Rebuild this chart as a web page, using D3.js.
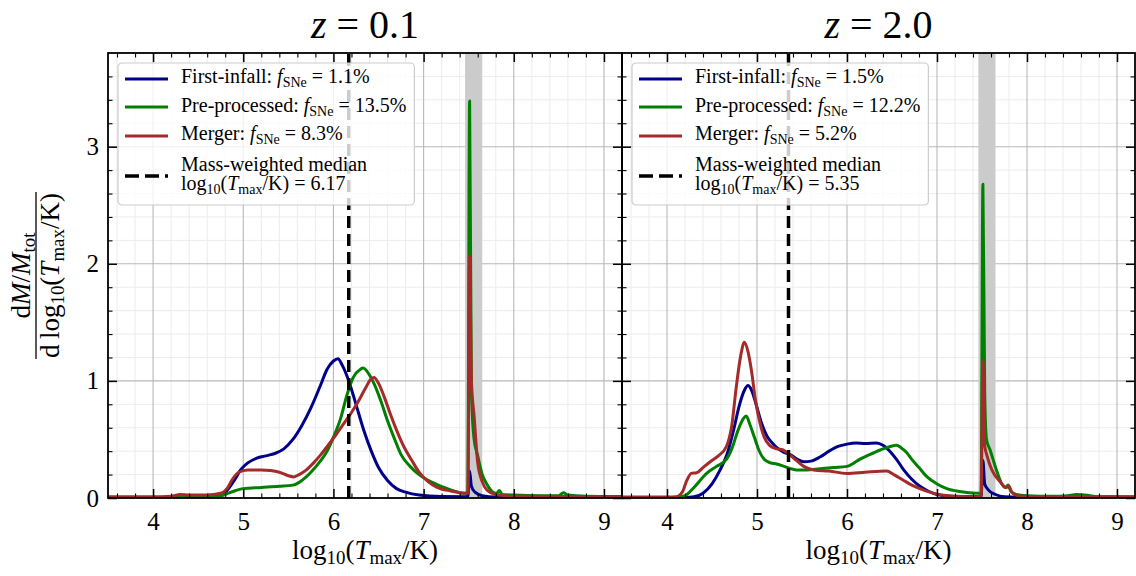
<!DOCTYPE html>
<html>
<head>
<meta charset="utf-8">
<script src="https://cdn.jsdelivr.net/npm/d3@7"></script>
<style>
  body { margin: 0; background: #fff; }
  text { font-family: "Liberation Serif", "Times New Roman", serif; fill: #000; }
</style>
</head>
<body>
<div class="visualisation"></div>
<script>
// ---- data ----
const xDomain = [3.5, 9.2];
const yDomain = [0, 3.8];
const majorX = [4, 5, 6, 7, 8, 9];
const majorY = [0, 1, 2, 3];
const redshifts = ["0.1", "2.0"];
const seriesNames = ["First-infall", "Pre-processed", "Merger"];
const seriesColors = ["#00008b", "#008000", "#a52a2a"];
const fSNe = [["1.1", "13.5", "8.3"], ["1.5", "12.2", "5.2"]];
const medians = [6.17, 5.35];
const hotBand = [7.46, 7.65];

// z = 0.1
const firstInfallZ01 = [[3.5,0.005],[4.0,0.005],[4.5,0.008],[4.7,0.02],[4.8,0.05],[4.9,0.15],[4.97,0.24],[5.05,0.30],[5.15,0.34],[5.25,0.36],[5.35,0.38],[5.45,0.42],[5.55,0.50],[5.65,0.62],[5.75,0.77],[5.85,0.95],[5.93,1.10],[6.0,1.17],[6.05,1.19],[6.1,1.13],[6.17,1.0],[6.25,0.80],[6.34,0.57],[6.42,0.40],[6.5,0.26],[6.6,0.15],[6.7,0.08],[6.8,0.05],[6.95,0.025],[7.2,0.012],[7.49,0.01],[7.51,0.23],[7.53,0.1],[7.57,0.05],[7.65,0.02],[7.8,0.008],[8.5,0.005],[9.2,0.003]];
const preProcessedZ01 = [[3.5,0.003],[4.5,0.005],[4.7,0.01],[4.8,0.03],[4.9,0.06],[5.0,0.08],[5.2,0.09],[5.4,0.10],[5.55,0.11],[5.65,0.15],[5.75,0.22],[5.85,0.31],[5.93,0.40],[6.0,0.52],[6.08,0.68],[6.15,0.88],[6.22,1.03],[6.3,1.10],[6.33,1.11],[6.4,1.05],[6.46,0.96],[6.53,0.82],[6.6,0.66],[6.68,0.50],[6.75,0.37],[6.85,0.27],[6.95,0.2],[7.05,0.15],[7.15,0.115],[7.3,0.07],[7.45,0.04],[7.49,0.04],[7.51,3.39],[7.53,0.9],[7.56,0.5],[7.6,0.36],[7.65,0.2],[7.7,0.12],[7.77,0.05],[7.81,0.04],[7.84,0.065],[7.87,0.03],[8.0,0.025],[8.3,0.02],[8.5,0.02],[8.55,0.045],[8.6,0.025],[8.8,0.015],[9.2,0.012]];
const mergerZ01 = [[3.5,0.01],[4.0,0.01],[4.2,0.015],[4.3,0.03],[4.4,0.025],[4.6,0.025],[4.75,0.04],[4.82,0.08],[4.88,0.16],[4.95,0.22],[5.05,0.24],[5.2,0.24],[5.3,0.235],[5.4,0.22],[5.5,0.19],[5.56,0.18],[5.62,0.2],[5.7,0.24],[5.78,0.3],[5.86,0.37],[5.94,0.45],[6.02,0.53],[6.1,0.62],[6.2,0.73],[6.28,0.83],[6.35,0.93],[6.42,1.02],[6.45,1.03],[6.5,0.98],[6.56,0.87],[6.63,0.72],[6.7,0.58],[6.78,0.44],[6.87,0.32],[6.95,0.22],[7.05,0.14],[7.15,0.09],[7.3,0.06],[7.49,0.04],[7.51,2.07],[7.53,1.0],[7.56,0.7],[7.6,0.3],[7.65,0.14],[7.7,0.07],[7.8,0.03],[8.0,0.015],[9.2,0.01]];

// z = 2.0
const firstInfallZ20 = [[3.5,0.003],[4.2,0.005],[4.3,0.01],[4.4,0.04],[4.5,0.12],[4.59,0.24],[4.67,0.38],[4.74,0.58],[4.8,0.78],[4.86,0.92],[4.9,0.96],[4.94,0.92],[4.99,0.80],[5.05,0.64],[5.11,0.53],[5.17,0.47],[5.22,0.43],[5.3,0.39],[5.37,0.37],[5.45,0.33],[5.52,0.31],[5.6,0.315],[5.7,0.35],[5.8,0.40],[5.9,0.44],[6.0,0.46],[6.1,0.47],[6.2,0.465],[6.33,0.47],[6.4,0.45],[6.45,0.42],[6.55,0.33],[6.63,0.24],[6.72,0.16],[6.81,0.10],[6.9,0.06],[7.0,0.03],[7.2,0.012],[7.49,0.01],[7.51,0.32],[7.53,0.12],[7.57,0.07],[7.65,0.03],[7.75,0.01],[8.0,0.005],[9.2,0.003]];
const preProcessedZ20 = [[3.5,0.003],[4.1,0.005],[4.2,0.02],[4.3,0.09],[4.44,0.21],[4.55,0.27],[4.66,0.33],[4.72,0.42],[4.79,0.58],[4.85,0.68],[4.88,0.70],[4.92,0.63],[4.97,0.52],[5.02,0.41],[5.08,0.33],[5.15,0.30],[5.22,0.29],[5.3,0.27],[5.44,0.24],[5.55,0.24],[5.7,0.25],[5.85,0.26],[6.0,0.27],[6.08,0.30],[6.14,0.33],[6.25,0.37],[6.37,0.41],[6.48,0.44],[6.55,0.45],[6.6,0.43],[6.66,0.39],[6.72,0.33],[6.8,0.26],[6.89,0.18],[7.0,0.12],[7.11,0.08],[7.25,0.055],[7.44,0.04],[7.49,0.04],[7.51,2.68],[7.53,0.9],[7.55,0.5],[7.59,0.41],[7.66,0.24],[7.72,0.12],[7.76,0.09],[7.79,0.11],[7.82,0.06],[7.88,0.03],[8.0,0.02],[8.3,0.015],[8.45,0.02],[8.55,0.03],[8.7,0.02],[8.8,0.01],[9.2,0.008]];
const mergerZ20 = [[3.5,0.008],[4.0,0.008],[4.1,0.01],[4.17,0.05],[4.22,0.15],[4.27,0.21],[4.33,0.215],[4.4,0.26],[4.48,0.31],[4.57,0.36],[4.66,0.44],[4.72,0.62],[4.77,0.95],[4.82,1.22],[4.86,1.33],[4.9,1.25],[4.94,1.08],[4.98,0.85],[5.03,0.65],[5.08,0.52],[5.14,0.45],[5.22,0.42],[5.29,0.41],[5.36,0.37],[5.44,0.32],[5.52,0.27],[5.63,0.24],[5.8,0.23],[6.0,0.21],[6.2,0.22],[6.44,0.23],[6.52,0.2],[6.63,0.15],[6.72,0.11],[6.81,0.08],[6.92,0.05],[7.05,0.025],[7.3,0.012],[7.49,0.01],[7.51,1.17],[7.53,0.45],[7.56,0.35],[7.61,0.24],[7.7,0.14],[7.77,0.09],[7.8,0.1],[7.83,0.05],[7.9,0.02],[8.1,0.012],[9.2,0.01]];

const panelSeries = [
    [firstInfallZ01, preProcessedZ01, mergerZ01],
    [firstInfallZ20, preProcessedZ20, mergerZ20]
];

// ---- layout ----
const width = 1136;
const height = 576;
const plotTop = 53, plotBottom = 498;
const panelEdges = [[108, 622], [622, 1135]];
const minorX = d3.range(18, 46).map(k => k / 5).filter(v => Math.abs(v - Math.round(v)) > 1e-6);
const minorY = d3.range(1, 19).map(k => k / 5).filter(v => Math.abs(v - Math.round(v)) > 1e-6);

const svg = d3.select(".visualisation")
    .append("svg")
    .attr("width", width)
    .attr("height", height);

const y = d3.scaleLinear(yDomain, [plotBottom, plotTop]);

// writes mathtext-like runs: [string, kind] where kind is "i" (italic) or "sub"
function rich(textSel, parts, fs) {
    let shift = 0;
    parts.forEach(([str, kind]) => {
        const t = textSel.append("tspan").text(str);
        let target = 0;
        if (kind === "i") t.style("font-style", "italic");
        if (kind === "sub") {
            t.attr("font-size", fs * 0.7);
            target = fs * 0.2;
        }
        if (target !== shift) t.attr("dy", target - shift);
        shift = target;
    });
    return textSel;
}

function styleAxis(g, major) {
    g.select(".domain").remove();
    g.selectAll(".tick line")
        .attr("stroke", "#000")
        .attr("stroke-width", major ? 1.5 : 1.1);
    g.selectAll(".tick text")
        .attr("font-size", 25)
        .style("font-family", "'Liberation Serif', serif")
        .attr("fill", "#000");
}

panelEdges.forEach((edge, i) => {
    const x = d3.scaleLinear(xDomain, edge);
    const g = svg.append("g");
    const clipId = "clip" + i;

    g.append("clipPath").attr("id", clipId)
        .append("rect")
        .attr("x", edge[0]).attr("y", plotTop)
        .attr("width", edge[1] - edge[0]).attr("height", plotBottom - plotTop);

    // grid: minor then major
    const grid = g.append("g");
    grid.selectAll("line.minx").data(minorX).enter().append("line")
        .attr("x1", d => x(d)).attr("x2", d => x(d))
        .attr("y1", plotTop).attr("y2", plotBottom)
        .attr("stroke", "#ececec").attr("stroke-width", 1);
    grid.selectAll("line.miny").data(minorY).enter().append("line")
        .attr("x1", edge[0]).attr("x2", edge[1])
        .attr("y1", d => y(d)).attr("y2", d => y(d))
        .attr("stroke", "#ececec").attr("stroke-width", 1);
    grid.selectAll("line.majx").data(majorX).enter().append("line")
        .attr("x1", d => x(d)).attr("x2", d => x(d))
        .attr("y1", plotTop).attr("y2", plotBottom)
        .attr("stroke", "#b8b8b8").attr("stroke-width", 1.1);
    grid.selectAll("line.majy").data(majorY).enter().append("line")
        .attr("x1", edge[0]).attr("x2", edge[1])
        .attr("y1", d => y(d)).attr("y2", d => y(d))
        .attr("stroke", "#b8b8b8").attr("stroke-width", 1.1);

    // shaded band around the virial temperature spike
    g.append("rect")
        .attr("x", x(hotBand[0]))
        .attr("width", x(hotBand[1]) - x(hotBand[0]))
        .attr("y", plotTop).attr("height", plotBottom - plotTop)
        .attr("fill", "#cbcbcb");

    const line = d3.line()
        .x(d => x(d[0]))
        .y(d => y(d[1]))
        .curve(d3.curveMonotoneX);

    g.append("g").attr("clip-path", `url(#${clipId})`)
        .selectAll("path")
        .data(panelSeries[i])
        .enter()
        .append("path")
        .attr("d", line)
        .attr("fill", "none")
        .attr("stroke", (d, k) => seriesColors[k])
        .attr("stroke-width", 3)
        .attr("stroke-linejoin", "round");

    // mass-weighted median
    g.append("line")
        .attr("x1", x(medians[i])).attr("x2", x(medians[i]))
        .attr("y1", y(0)).attr("y2", plotTop)
        .attr("stroke", "#000")
        .attr("stroke-width", 3.5)
        .attr("stroke-dasharray", "12,6");

    // ticks on all four sides, pointing inward
    const axes = [
        [d3.axisBottom(x), `translate(0,${plotBottom})`, true],
        [d3.axisTop(x), `translate(0,${plotTop})`, false],
    ];
    axes.forEach(([ax, tr, labels]) => {
        g.append("g").attr("transform", tr)
            .call(ax.tickValues(minorX).tickSize(-4.5).tickSizeOuter(0).tickFormat(""))
            .call(s => styleAxis(s, false));
        g.append("g").attr("transform", tr)
            .call(ax.tickValues(majorX).tickSize(-9).tickSizeOuter(0).tickPadding(14)
                .tickFormat(labels ? d3.format("d") : ""))
            .call(s => styleAxis(s, true));
    });
    const yAxes = [
        [d3.axisLeft(y), `translate(${edge[0]},0)`, i === 0],
        [d3.axisRight(y), `translate(${edge[1]},0)`, false],
    ];
    yAxes.forEach(([ax, tr, labels]) => {
        g.append("g").attr("transform", tr)
            .call(ax.tickValues(minorY).tickSize(-4.5).tickSizeOuter(0).tickFormat(""))
            .call(s => styleAxis(s, false));
        g.append("g").attr("transform", tr)
            .call(ax.tickValues(majorY).tickSize(-9).tickSizeOuter(0).tickPadding(9)
                .tickFormat(labels ? d3.format("d") : ""))
            .call(s => styleAxis(s, true));
    });

    // frame
    g.append("rect")
        .attr("x", edge[0]).attr("y", plotTop)
        .attr("width", edge[1] - edge[0]).attr("height", plotBottom - plotTop)
        .attr("fill", "none").attr("stroke", "#000").attr("stroke-width", 1.8);

    // title
    rich(svg.append("text")
        .attr("x", (edge[0] + edge[1]) / 2).attr("y", 38)
        .attr("text-anchor", "middle")
        .attr("font-size", 40),
        [["z", "i"], [" = " + redshifts[i]]], 40);

    // x label
    rich(svg.append("text")
        .attr("x", (edge[0] + edge[1]) / 2).attr("y", 559)
        .attr("text-anchor", "middle")
        .attr("font-size", 27),
        [["log"], ["10", "sub"], ["("], ["T", "i"], ["max", "sub"], ["/K)"]], 27);

    // legend
    const lg = svg.append("g").attr("transform", `translate(${edge[0] + 10},63)`);
    const box = lg.append("rect")
        .attr("rx", 4).attr("ry", 4)
        .attr("height", 142)
        .attr("fill", "#fff").attr("fill-opacity", 0.8)
        .attr("stroke", "#cccccc").attr("stroke-width", 1.2);
    const rowHandle = [16, 44, 73];
    const rowBase = [20, 49, 77];
    seriesNames.forEach((name, k) => {
        lg.append("line")
            .attr("x1", 7).attr("x2", 50)
            .attr("y1", rowHandle[k]).attr("y2", rowHandle[k])
            .attr("stroke", seriesColors[k]).attr("stroke-width", 3);
        rich(lg.append("text").attr("class", "lt")
            .attr("x", 63).attr("y", rowBase[k]).attr("font-size", 20),
            [[name + ": "], ["f", "i"], ["SNe", "sub"], [" = " + fSNe[i][k] + "%"]], 20);
    });
    lg.append("line")
        .attr("x1", 7).attr("x2", 50)
        .attr("y1", 113).attr("y2", 113)
        .attr("stroke", "#000").attr("stroke-width", 3.5)
        .attr("stroke-dasharray", "14,6");
    lg.append("text").attr("class", "lt")
        .attr("x", 63).attr("y", 108).attr("font-size", 20)
        .text("Mass-weighted median");
    rich(lg.append("text").attr("class", "lt")
        .attr("x", 63).attr("y", 127).attr("font-size", 20),
        [["log"], ["10", "sub"], ["("], ["T", "i"], ["max", "sub"], ["/K) = " + medians[i].toFixed(2)]], 20);
    const maxRight = d3.max(lg.selectAll("text.lt").nodes(), n => {
        const b = n.getBBox();
        return b.x + b.width;
    });
    box.attr("width", maxRight + 8);
});

// y label as a fraction
const yl = svg.append("g").attr("transform", `translate(0,${(plotTop + plotBottom) / 2}) rotate(-90)`);
rich(yl.append("text").attr("x", 0).attr("y", 30)
    .attr("text-anchor", "middle").attr("font-size", 27),
    [["d"], ["M", "i"], ["/"], ["M", "i"], ["tot", "sub"]], 27);
rich(yl.append("text").attr("x", 0).attr("y", 59)
    .attr("text-anchor", "middle").attr("font-size", 27),
    [["d\u2009log"], ["10", "sub"], ["("], ["T", "i"], ["max", "sub"], ["/K)"]], 27);
const denomWidth = yl.selectAll("text").nodes()[1].getBBox().width;
yl.append("line")
    .attr("x1", -denomWidth / 2 - 1).attr("x2", denomWidth / 2 + 1)
    .attr("y1", 36).attr("y2", 36)
    .attr("stroke", "#000").attr("stroke-width", 1.3);
</script>
</body>
</html>
